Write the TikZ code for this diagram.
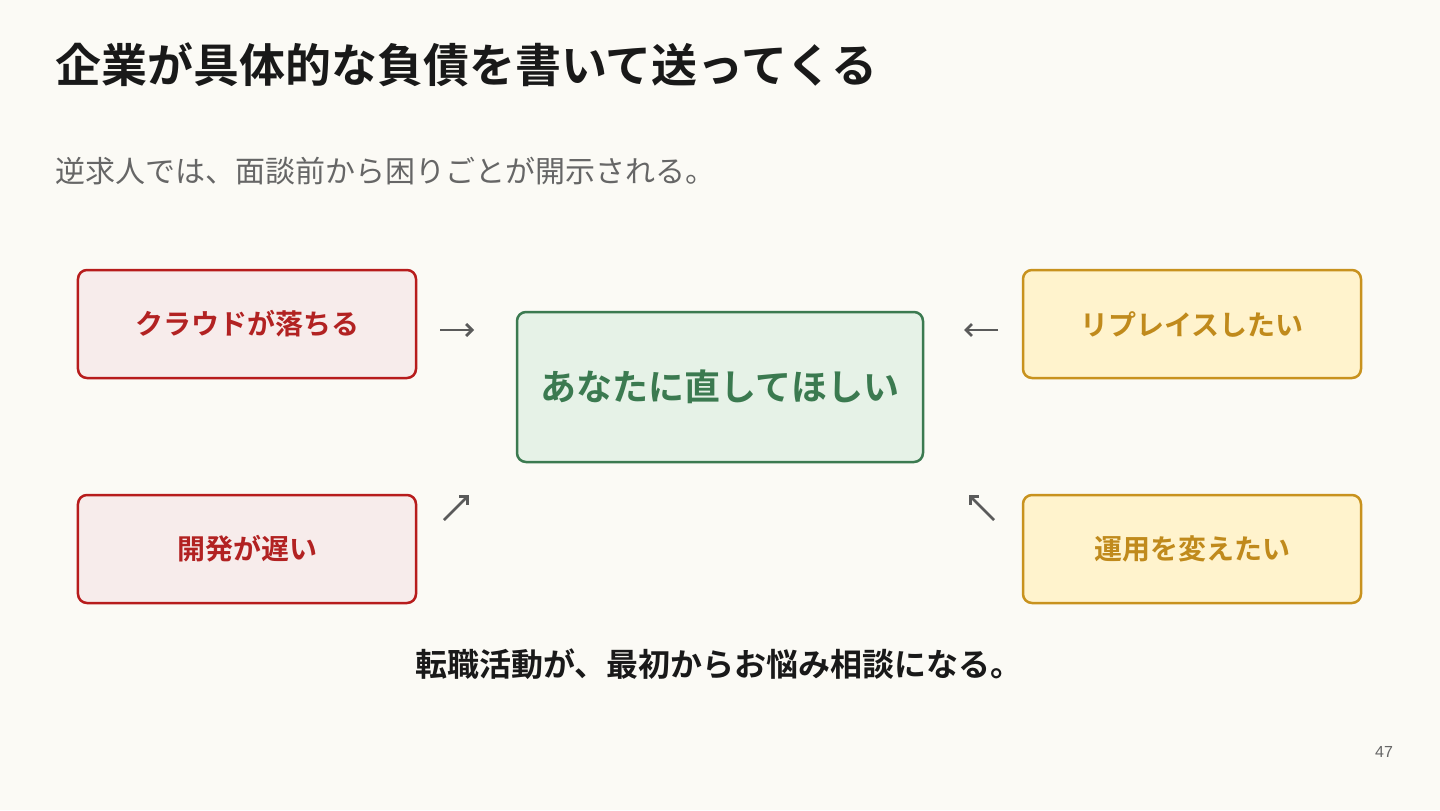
\documentclass[tikz,border=0pt]{standalone}
\usepackage{fontspec}
\setmainfont{Noto Sans CJK JP}
\newfontfamily\jpb{Noto Sans CJK JP}[BoldFont={* Bold}]
\newfontfamily\latin{Liberation Sans}
\usetikzlibrary{arrows.meta}
\definecolor{bg}{HTML}{FBFAF5}
\definecolor{redline}{HTML}{B71C1C}
\definecolor{redfill}{HTML}{F7ECEB}
\definecolor{redtext}{HTML}{B22222}
\definecolor{yelline}{HTML}{C8921E}
\definecolor{yelfill}{HTML}{FFF3CD}
\definecolor{yeltext}{HTML}{C08A1C}
\definecolor{grnline}{HTML}{3B7A50}
\definecolor{grnfill}{HTML}{E6F2E7}
\definecolor{grntext}{HTML}{3B7A50}
\definecolor{subgray}{HTML}{666666}
\definecolor{arrgray}{HTML}{5A5A5A}
\tikzset{
  card/.style={draw, line width=2.5bp, rounded corners=9bp, minimum width=338bp, minimum height=108bp, inner sep=0pt, font=\jpb\bfseries\fontsize{28bp}{34bp}\selectfont},
  redcard/.style={card, draw=redline, fill=redfill, text=redtext},
  yelcard/.style={card, draw=yelline, fill=yelfill, text=yeltext},
  grncard/.style={draw=grnline, fill=grnfill, text=grntext, line width=2.5bp, rounded corners=9bp, minimum width=406bp, minimum height=150bp, inner sep=0pt, font=\jpb\bfseries\fontsize{36bp}{42bp}\selectfont},
  arr/.style={draw=arrgray, line width=2.8bp, -{Straight Barb[length=6bp,width=12bp,line width=2.8bp]}},
  txt/.style={inner sep=0pt}
}
\begin{document}
\begin{tikzpicture}[x=1bp,y=-1bp]
\useasboundingbox[fill=bg] (0,0) rectangle (1440,810);
\node[txt, anchor=west, font=\jpb\bfseries\fontsize{46bp}{54bp}\selectfont, text=black!90] (title) at (55,65) {企業が具体的な負債を書いて送ってくる};
\node[txt, anchor=west, font=\jpb\fontsize{30bp}{36bp}\selectfont, text=subgray] (sub) at (55,171) {逆求人では、面談前から困りごとが開示される。};
\node[redcard] (r1) at (247,324) {クラウドが落ちる};
\node[redcard] (r2) at (247,549) {開発が遅い};
\node[yelcard] (y1) at (1192,324) {リプレイスしたい};
\node[yelcard] (y2) at (1192,549) {運用を変えたい};
\node[grncard] (g) at (720,387) {あなたに直してほしい};
\coordinate (a1s) at (440,330); \coordinate (a1e) at (474,330);
\coordinate (a2s) at (998,330); \coordinate (a2e) at (964,330);
\coordinate (a3s) at (444,520); \coordinate (a3e) at (469,495);
\coordinate (a4s) at (994,520); \coordinate (a4e) at (969,495);
\draw[arr] (a1s) -- (a1e);
\draw[arr] (a2s) -- (a2e);
\draw[arr] (a3s) -- (a3e);
\draw[arr] (a4s) -- (a4e);
\node[txt, font=\jpb\bfseries\fontsize{32bp}{38bp}\selectfont, text=black!90] (bottom) at (719,664) {転職活動が、最初からお悩み相談になる。};
\node[txt, font=\latin\fontsize{16bp}{18bp}\selectfont, text=subgray] (pg) at (1384,752) {47};
\end{tikzpicture}
\end{document}
